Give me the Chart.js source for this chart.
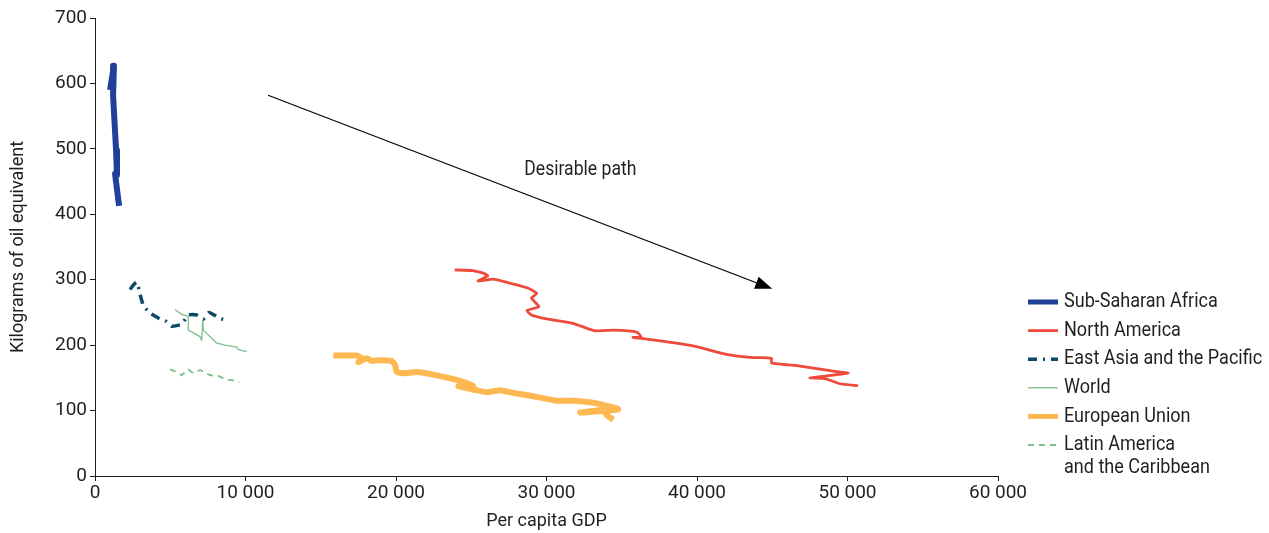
<!DOCTYPE html>
<html>
<head>
<meta charset="utf-8">
<script src="https://cdn.jsdelivr.net/npm/chart.js@4.4.1/dist/chart.umd.min.js"></script>
<style>
  html, body { margin: 0; padding: 0; background: #fff; }
  #wrap { width: 1269px; height: 533px; position: relative; }
</style>
</head>
<body>
<div id="wrap"><canvas id="energia"></canvas></div>
<script>
const FONT = "Roboto, 'Noto Sans', sans-serif";
const TEXT = '#231f20';

// valores (PIB per capita, kg equivalente de petroleo)
const africaX = [1000, 1260, 1200, 1300, 1400, 1460, 1330, 1600];
const africaY = [590, 627, 582, 540, 498, 460, 462, 413];

const norteX = [23900, 25100, 25800, 26100, 25450, 26450, 27700, 28800, 29350, 29000, 29500, 28700, 29000, 30000, 31800, 33200, 34400, 36000, 36300, 35750, 37100, 39750, 41950, 43750, 44950, 44950, 46850, 48850, 50050, 48600, 47500, 48500, 49500, 50700];
const norteY = [315, 314, 310, 306, 298, 301, 294, 287, 279, 272, 259, 253, 246, 240, 233, 222, 223, 220, 212, 212, 208, 199, 186, 181, 180, 173, 168, 161, 157, 153, 150, 149, 141, 138];

const asiaX = [2330, 2550, 2770, 2880, 2990, 3210, 3650, 4320, 4760, 5100, 5760, 6200, 6760, 7200, 7580, 8300, 8860];
const asiaY = [285, 292, 296, 289, 278, 261, 249, 240, 236, 229, 232, 246, 246, 240, 250, 241, 237];

const mundoX = [5320, 5760, 6200, 6200, 6980, 7090, 7160, 7200, 8090, 8640, 9420, 9520, 10080];
const mundoY = [254, 247, 244, 223, 213, 207, 238, 223, 203, 200, 197, 193, 190];

const ueX = [15830, 17390, 17720, 17500, 18050, 18390, 18940, 19710, 19930, 20050, 20490, 21370, 22480, 23810, 24700, 25140, 24140, 25360, 26030, 26910, 27790, 29120, 30680, 31780, 33340, 34770, 32230, 33780, 34000, 34440];
const ueY = [184, 184, 180, 174, 180, 176, 177, 176, 170, 159, 157, 159, 155, 148, 142, 137, 137, 131, 128, 131, 127, 122, 115, 115, 111, 102, 97, 101, 93, 86];

const latinaX = [4980, 5320, 5760, 6200, 6530, 6980, 7640, 8190, 8640, 9190, 9590];
const latinaY = [163, 160, 154, 163, 157, 162, 154, 153, 148, 146, 143];

const etiquetas = ['Sub-Saharan Africa', 'North America', 'East Asia and the Pacific', 'World', 'European Union', 'Latin America\nand the Caribbean'];
const ticksX = [0, 10000, 20000, 30000, 40000, 50000, 60000];
const ticksY = [0, 100, 200, 300, 400, 500, 600, 700];

const flechaDesde = [11500, 582];
const flechaHasta = [45000, 286];
const textoFlecha = 'Desirable path';
const textoPos = [32250, 467];

// la fuente original es condensada: se estrecha el texto dibujado a mano
const ESTRECHO = 0.88;

function puntos(xs, ys) {
    return xs.map((x, i) => ({ x: x, y: ys[i] }));
}

function serie(nombre, xs, ys, color, ancho, guiones, curva) {
    return {
        label: nombre,
        data: puntos(xs, ys),
        showLine: true,
        borderColor: color,
        backgroundColor: color,
        borderWidth: ancho,
        borderDash: guiones || [],
        pointRadius: 0,
        pointHoverRadius: 0,
        tension: curva || 0,
        borderJoinStyle: 'round',
        borderCapStyle: 'butt'
    };
}

function miles(v) {
    return String(v).replace(/\B(?=(\d{3})+(?!\d))/g, ' ');
}

function textoEstrecho(c, txt, x, y) {
    c.save();
    c.translate(x, y);
    c.scale(ESTRECHO, 1);
    c.fillText(txt, 0, 0);
    c.restore();
}

const flecha = {
    id: 'flecha',
    afterDatasetsDraw(chart) {
        const c = chart.ctx;
        const sx = chart.scales.x, sy = chart.scales.y;
        const x1 = sx.getPixelForValue(flechaDesde[0]), y1 = sy.getPixelForValue(flechaDesde[1]);
        const x2 = sx.getPixelForValue(flechaHasta[0]), y2 = sy.getPixelForValue(flechaHasta[1]);
        const ang = Math.atan2(y2 - y1, x2 - x1);
        const largo = 17, medio = 6.5;
        c.save();
        c.strokeStyle = '#000';
        c.fillStyle = '#000';
        c.lineWidth = 1.2;
        c.beginPath();
        c.moveTo(x1, y1);
        c.lineTo(x2 - Math.cos(ang) * largo, y2 - Math.sin(ang) * largo);
        c.stroke();
        c.beginPath();
        c.moveTo(x2, y2);
        c.lineTo(x2 - Math.cos(ang) * largo - Math.sin(ang) * medio, y2 - Math.sin(ang) * largo + Math.cos(ang) * medio);
        c.lineTo(x2 - Math.cos(ang) * largo + Math.sin(ang) * medio, y2 - Math.sin(ang) * largo - Math.cos(ang) * medio);
        c.closePath();
        c.fill();
        c.font = '20px ' + FONT;
        c.fillStyle = TEXT;
        c.textAlign = 'center';
        c.textBaseline = 'middle';
        textoEstrecho(c, textoFlecha, sx.getPixelForValue(textoPos[0]), sy.getPixelForValue(textoPos[1]));
        c.restore();
    }
};

// leyenda dibujada a mano a la derecha
const leyenda = {
    id: 'leyenda',
    afterDraw(chart) {
        const c = chart.ctx;
        const x0 = chart.chartArea.right + 30;
        let y = 302;
        c.save();
        c.font = '20.5px ' + FONT;
        c.textBaseline = 'middle';
        chart.data.datasets.forEach(ds => {
            c.strokeStyle = ds.borderColor;
            c.lineWidth = Math.min(ds.borderWidth, 5);
            c.setLineDash(ds.borderDash);
            c.beginPath();
            c.moveTo(x0, y);
            c.lineTo(x0 + 30, y);
            c.stroke();
            c.setLineDash([]);
            c.fillStyle = TEXT;
            ds.label.split('\n').forEach((linea, k) => {
                textoEstrecho(c, linea, x0 + 36, y + k * 23);
                if (k > 0) y += 23;
            });
            y += 28.6;
        });
        c.restore();
    }
};

new Chart(document.getElementById('energia'), {
    type: 'scatter',
    data: {
        datasets: [
            serie(etiquetas[0], africaX, africaY, '#21409a', 6),
            serie(etiquetas[1], norteX, norteY, '#ef4b3c', 2.8, null, 0.15),
            serie(etiquetas[2], asiaX, asiaY, '#0c4a68', 3.5, [9, 6, 2, 6], 0.15),
            serie(etiquetas[3], mundoX, mundoY, '#7dbf8a', 1.3),
            serie(etiquetas[4], ueX, ueY, '#fdb851', 6, null, 0.15),
            serie(etiquetas[5], latinaX, latinaY, '#7dbf8a', 1.8, [6, 5])
        ]
    },
    options: {
        responsive: true,
        maintainAspectRatio: false,
        animation: false,
        layout: { padding: { left: 8, right: 271, top: 18, bottom: 0 } },
        plugins: {
            legend: { display: false },
            tooltip: { enabled: false }
        },
        scales: {
            x: {
                type: 'linear',
                min: 0,
                max: 60000,
                afterBuildTicks: s => { s.ticks = ticksX.map(v => ({ value: v })); },
                afterFit: s => { s.height = 533 - 476; },
                ticks: { callback: v => miles(v), color: TEXT, font: { family: FONT, size: 19 }, padding: 1, maxRotation: 0 },
                grid: { drawOnChartArea: false, drawTicks: true, tickLength: 5, color: '#231f20' },
                border: { display: true, color: '#231f20', width: 1 },
                title: { display: true, text: 'Per capita GDP', color: TEXT, font: { family: FONT, size: 18 }, padding: { top: 0, bottom: 1 } }
            },
            y: {
                type: 'linear',
                min: 0,
                max: 700,
                afterBuildTicks: s => { s.ticks = ticksY.map(v => ({ value: v })); },
                afterFit: s => { s.width = 95 - 8; },
                ticks: { color: TEXT, font: { family: FONT, size: 19 }, padding: 3 },
                grid: { drawOnChartArea: false, drawTicks: true, tickLength: 5, color: '#231f20' },
                border: { display: true, color: '#231f20', width: 1 },
                title: { display: true, text: 'Kilograms of oil equivalent', color: TEXT, font: { family: FONT, size: 18 }, padding: { top: 0, bottom: 4 } }
            }
        }
    },
    plugins: [flecha, leyenda]
});
</script>
</body>
</html>
